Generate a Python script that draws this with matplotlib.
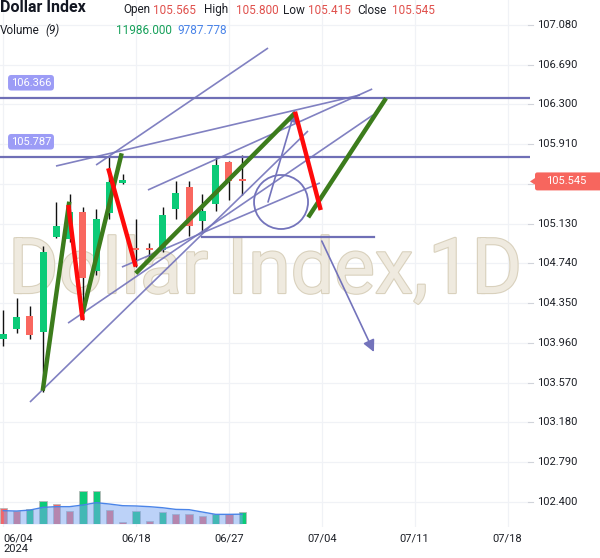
import matplotlib
matplotlib.use("Agg")
import matplotlib.pyplot as plt
from matplotlib.patches import Rectangle, Ellipse, FancyBboxPatch, Polygon
import matplotlib.patheffects as pe
import numpy as np

FONT = ['Roboto', 'DejaVu Sans']
plt.rcParams['font.family'] = FONT

# ---------------- data ----------------
idx = list(range(19))
opens  = [103.996, 104.100, 104.224, 104.070, 105.002, 104.980, 105.248, 104.669, 105.238, 105.527,
          104.889, 104.885, 104.872, 105.274, 105.490, 105.160, 105.320, 105.736, 105.565]
highs  = [104.283, 104.398, 104.322, 104.911, 105.343, 105.420, 105.297, 105.271, 105.788, 105.615,
          105.173, 104.944, 105.297, 105.549, 105.549, 105.422, 105.782, 105.748, 105.800]
lows   = [103.930, 104.060, 104.001, 103.481, 104.993, 104.950, 104.185, 104.627, 105.173, 105.517,
          104.710, 104.774, 104.855, 105.173, 105.009, 105.052, 105.255, 105.363, 105.415]
closes = [104.048, 104.214, 104.041, 104.852, 105.107, 105.240, 104.600, 105.176, 105.539, 105.559,
          104.869, 104.869, 105.215, 105.434, 105.110, 105.255, 105.706, 105.552, 105.545]

volumes = [16100, 13000, 14700, 23300, 20200, 13400, 33600, 33600, 14400, 1400,
           13400, 3100, 12300, 9600, 9600, 8200, 9900, 10300, 11986]
vol_up = [False, False, True, True, False, False, True, True, False, False,
          True, False, True, False, False, False, True, False, True]
vol_ma = [13360, 13000, 14000, 16800, 17500, 17500, 19200, 21600, 20200, 18500,
          18200, 17500, 16400, 14700, 14400, 12000, 9600, 9600, 9788]

y_ticks = [107.080, 106.690, 106.300, 105.910, 105.520, 105.130, 104.740, 104.350,
           103.960, 103.570, 103.180, 102.790, 102.400]
y_tick_labels = ["107.080", "106.690", "106.300", "105.910", "", "105.130", "104.740", "104.350",
                 "103.960", "103.570", "103.180", "102.790", "102.400"]
x_tick_pos = [0, 10, 17, 24, 31, 38]
x_tick_labels = ["06/04", "06/18", "06/27", "07/04", "07/11", "07/18"]

last_price = 105.545
hlines = [106.366, 105.787]
hline_labels = ["106.366", "105.787"]

# zig-zag drawings (index, price)
green_segs = [((2.97, 103.491), (4.97, 105.346)),
              ((5.98, 104.251), (8.92, 105.821)),
              ((9.98, 104.643), (21.98, 106.216)),
              ((22.98, 105.193), (28.84, 106.361))]
red_segs = [((4.90, 105.314), (5.98, 104.185)),
            ((7.91, 105.674), (9.98, 104.708)),
            ((21.98, 106.229), (23.92, 105.264))]
trend_segs = [((2.01, 103.380), (22.96, 106.040)),
              ((4.88, 104.155), (27.86, 106.197)),
              ((8.94, 104.705), (23.86, 105.530)),
              ((3.97, 105.696), (26.88, 106.393)),
              ((6.99, 105.706), (19.95, 106.854)),
              ((10.90, 105.461), (27.80, 106.452))]
short_hline = ((14.97, 105.000), (27.90, 105.000))
arrow_down = ((24.00, 104.960), (27.93, 103.871))
arrow_up = ((19.95, 105.343), (21.98, 106.246))
circle_center = (20.93, 105.343)

# ---------------- figure ----------------
W, H = 600, 558
fig = plt.figure(figsize=(W / 100, H / 100), dpi=100)
fig.patch.set_facecolor('white')

PX_I = 13.27      # pixels per bar
X0 = 3.3          # pixel of bar 0
PX_P = 101.9      # pixels per price unit
Y_REF = 25.0      # pixel of 107.08
plot_w, plot_h = 530, 527

ax = fig.add_axes([0, (H - plot_h) / H, plot_w / W, plot_h / H])
ax.set_xlim(-X0 / PX_I, (plot_w - X0) / PX_I)
ax.set_ylim(107.08 - (plot_h - Y_REF) / PX_P, 107.08 + Y_REF / PX_P)
for s in ax.spines.values():
    s.set_visible(False)
ax.set_xticks([]); ax.set_yticks([])
ax.set_facecolor('white')

grid_c = '#f0f2f6'
for yv in y_ticks:
    ax.axhline(yv, color=grid_c, lw=0.9, zorder=0)
for xv in x_tick_pos:
    ax.axvline(xv, color=grid_c, lw=0.9, zorder=0)

# watermark
wm = ax.text(0.5, (plot_h - 293) / plot_h, "Dollar Index,1D", transform=ax.transAxes,
             ha='center', va='baseline', fontsize=60, color='#efeadf', family=FONT,
             path_effects=[pe.withStroke(linewidth=1.6, foreground='#d9d1bd')], zorder=0.5)
fig.canvas.draw()
bb = wm.get_window_extent()
wm.set_fontsize(60 * 514 / bb.width)

# volume axes
vol_ax = fig.add_axes([0, (H - 523.7) / H, plot_w / W, 100 / H], sharex=ax)
vol_ax.set_ylim(0, 102700)
vol_ax.patch.set_alpha(0)
for s in vol_ax.spines.values():
    s.set_visible(False)
vol_ax.set_xticks([]); vol_ax.set_yticks([])
vcols = ['#0ccb78' if u else '#f2666a' for u in vol_up]
vol_ax.bar(idx, volumes, width=0.55, color=vcols, edgecolor='#b8b8b8', linewidth=0.6, zorder=1)
vol_ax.fill_between(idx, vol_ma, 0, color='#7aa6f2', alpha=0.5, lw=0, zorder=2)
vol_ax.plot(idx, vol_ma, color='#4a84e8', lw=1.0, zorder=3)
vol_ax.set_xlim(ax.get_xlim())

# candles
up_c, dn_c = '#0ccb78', '#f9675f'
bw = 0.52
for i, o, h, l, c in zip(idx, opens, highs, lows, closes):
    col = up_c if c >= o else dn_c
    ax.vlines(i, l, h, color='#111111', lw=1.0, zorder=2)
    bot = min(o, c)
    hgt = max(abs(c - o), 0.02)
    ax.add_patch(Rectangle((i - bw / 2, bot), bw, hgt, facecolor=col, edgecolor='none', zorder=3))

# drawings
lav = '#7373bb'
for yv in hlines:
    ax.axhline(yv, color='#6f6fb6', lw=1.6, zorder=4)
for (a, b) in trend_segs:
    ax.plot([a[0], b[0]], [a[1], b[1]], color=lav, lw=1.2, alpha=0.9, zorder=4,
            solid_capstyle='butt')
ax.plot([short_hline[0][0], short_hline[1][0]], [short_hline[0][1], short_hline[1][1]],
        color='#6f6fb6', lw=1.6, zorder=4)
for (a, b) in (arrow_down, arrow_up):
    ax.annotate('', xy=b, xytext=a,
                arrowprops=dict(arrowstyle='-|>,head_length=0.7,head_width=0.35', color=lav,
                                lw=1.2, shrinkA=0, shrinkB=0), zorder=4)
ax.add_patch(Ellipse(circle_center, 2 * 27 / PX_I, 2 * 27 / PX_P, facecolor='none',
                     edgecolor=lav, lw=1.3, zorder=4))
for (a, b) in green_segs:
    ax.plot([a[0], b[0]], [a[1], b[1]], color='#3c7c1c', lw=3.2, zorder=5, solid_capstyle='butt')
for (a, b) in red_segs:
    ax.plot([a[0], b[0]], [a[1], b[1]], color='#ff0a0a', lw=3.2, zorder=5, solid_capstyle='butt')

# badges for horizontal lines
for yv, lab in zip(hlines, hline_labels):
    ypx = Y_REF + (107.08 - yv) * PX_P - 15
    fig.text(31 / W, 1 - ypx / H, lab, ha='center', va='center', fontsize=8, color='white',
             family=FONT,
             bbox=dict(boxstyle='round,pad=0.25,rounding_size=0.3', fc='#9c9cf6', ec='none'))

# right axis labels
for yv, lab in zip(y_ticks, y_tick_labels):
    ypx = Y_REF + (107.08 - yv) * PX_P
    fig.add_artist(plt.Line2D([528 / W, 533 / W], [1 - ypx / H] * 2, color='#d0d3da', lw=0.8))
    if lab:
        fig.text(537 / W, 1 - ypx / H, lab, ha='left', va='center', fontsize=8, color='#1c1f26',
                 family=FONT)
# last price badge
ypx = Y_REF + (107.08 - last_price) * PX_P
bx0, bx1, bh = 535, 600, 18
fig.add_artist(FancyBboxPatch((bx0 / W, (H - ypx - bh / 2) / H), (bx1 - bx0 + 4) / W, bh / H,
                              boxstyle='round,pad=0,rounding_size=0.004', fc='#f7665e', ec='none',
                              transform=fig.transFigure))
fig.add_artist(Polygon([[530 / W, (H - ypx) / H], [536 / W, (H - ypx + 4) / H],
                        [536 / W, (H - ypx - 4) / H]], closed=True, fc='#f7665e', ec='none',
                       transform=fig.transFigure))
fig.text(566 / W, 1 - ypx / H, f"{last_price:.3f}", ha='center', va='center', fontsize=8,
         color='white', family=FONT)

# date labels
for xv, lab in zip(x_tick_pos, x_tick_labels):
    xpx = X0 + xv * PX_I
    if xv == 0:
        fig.text(3 / W, 1 - 538 / H, lab, ha='left', va='center', fontsize=8, color='#1c1f26',
                 family=FONT)
        fig.text(3 / W, 1 - 549 / H, "2024", ha='left', va='center', fontsize=8,
                 color='#1c1f26', family=FONT)
    else:
        fig.text(xpx / W, 1 - 538 / H, lab, ha='center', va='center', fontsize=8,
                 color='#1c1f26', family=FONT)

# header
fig.text(0 / W, 1 - 8 / H, "Dollar Index", ha='left', va='center', fontsize=11.5,
         fontweight='bold', color='#131722', family=FONT)
hdr = [("Open", 123, '#1c1f26'), ("105.565", 153, '#e0504c'), ("High", 204, '#1c1f26'),
       ("105.800", 236, '#e0504c'), ("Low", 283, '#1c1f26'), ("105.415", 308, '#e0504c'),
       ("Close", 357, '#1c1f26'), ("105.545", 392, '#e0504c')]
for t, xp, c in hdr:
    fig.text(xp / W, 1 - 10 / H, t, ha='left', va='center', fontsize=8.5, color=c, family=FONT)
fig.text(0, 1 - 30 / H, "Volume", ha='left', va='center', fontsize=8.5, color='#1c1f26',
         family=FONT)
fig.text(45 / W, 1 - 30 / H, "(9)", ha='left', va='center', fontsize=8.5, color='#1c1f26',
         style='italic', family=FONT)
fig.text(116 / W, 1 - 30 / H, "11986.000", ha='left', va='center', fontsize=8.5,
         color='#16a05a', family=FONT)
fig.text(177 / W, 1 - 30 / H, "9787.778", ha='left', va='center', fontsize=8.5,
         color='#4a84e8', family=FONT)

fig.savefig("out.png", dpi=100)
